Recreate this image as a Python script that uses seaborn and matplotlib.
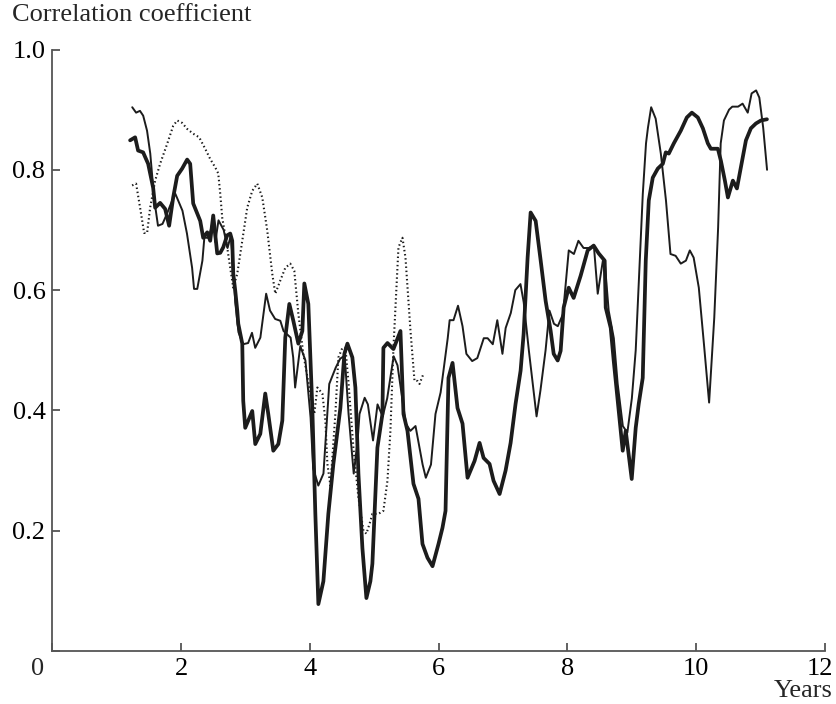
import numpy as np
import pandas as pd
import matplotlib
matplotlib.use("Agg")
import matplotlib.pyplot as plt
from matplotlib.transforms import ScaledTranslation
import seaborn as sns

# Running correlation coefficients against time (years)
thick_x = [1.207, 1.285, 1.331, 1.409, 1.487, 1.565, 1.596, 1.673, 1.751, 1.813, 1.876, 1.938, 2.015, 2.093,
           2.140, 2.187, 2.296, 2.342, 2.405, 2.451, 2.498, 2.560, 2.607, 2.653, 2.715, 2.762, 2.793, 2.809,
           2.840, 2.871, 2.887, 2.949, 2.964, 2.995, 3.104, 3.151, 3.229, 3.306, 3.353, 3.431, 3.509, 3.571,
           3.617, 3.680, 3.742, 3.820, 3.882, 3.913, 3.975, 4.037, 4.084, 4.131, 4.209, 4.286, 4.364, 4.473,
           4.535, 4.582, 4.659, 4.706, 4.753, 4.815, 4.877, 4.939, 4.970, 5.048, 5.126, 5.141, 5.204, 5.297,
           5.406, 5.453, 5.515, 5.608, 5.686, 5.748, 5.826, 5.904, 5.997, 6.059, 6.106, 6.152, 6.215, 6.292,
           6.370, 6.448, 6.495, 6.557, 6.635, 6.697, 6.790, 6.852, 6.946, 7.039, 7.117, 7.194, 7.272, 7.319,
           7.381, 7.428, 7.506, 7.584, 7.661, 7.739, 7.786, 7.848, 7.894, 7.941, 8.019, 8.096, 8.205, 8.314,
           8.407, 8.485, 8.578, 8.594, 8.672, 8.718, 8.796, 8.858, 8.905, 8.998, 9.060, 9.107, 9.169, 9.216,
           9.263, 9.325, 9.403, 9.481, 9.527, 9.574, 9.652, 9.760, 9.854, 9.932, 10.025, 10.103, 10.180,
           10.227, 10.336, 10.383, 10.445, 10.492, 10.569, 10.632, 10.694, 10.772, 10.849, 10.927, 11.005,
           11.098]
thick_y = [0.849, 0.854, 0.832, 0.829, 0.810, 0.770, 0.737, 0.745, 0.735, 0.707, 0.754, 0.790, 0.802, 0.817,
           0.810, 0.744, 0.715, 0.687, 0.696, 0.682, 0.724, 0.661, 0.662, 0.671, 0.691, 0.694, 0.682, 0.627,
           0.599, 0.566, 0.544, 0.511, 0.416, 0.371, 0.399, 0.344, 0.361, 0.428, 0.394, 0.333, 0.344, 0.383,
           0.521, 0.577, 0.549, 0.511, 0.532, 0.611, 0.577, 0.404, 0.228, 0.078, 0.116, 0.228, 0.311, 0.404,
           0.494, 0.511, 0.488, 0.438, 0.295, 0.171, 0.088, 0.116, 0.145, 0.338, 0.394, 0.504, 0.512, 0.502,
           0.532, 0.394, 0.366, 0.278, 0.253, 0.178, 0.155, 0.141, 0.178, 0.205, 0.233, 0.454, 0.479, 0.404,
           0.378, 0.288, 0.300, 0.316, 0.346, 0.321, 0.311, 0.283, 0.261, 0.300, 0.346, 0.411, 0.466, 0.527,
           0.654, 0.729, 0.715, 0.649, 0.582, 0.532, 0.494, 0.483, 0.499, 0.571, 0.604, 0.587, 0.624, 0.666,
           0.674, 0.661, 0.649, 0.571, 0.537, 0.483, 0.399, 0.333, 0.366, 0.286, 0.371, 0.411, 0.454, 0.649,
           0.749, 0.787, 0.802, 0.810, 0.829, 0.827, 0.844, 0.865, 0.887, 0.895, 0.887, 0.869, 0.844,
           0.835, 0.835, 0.815, 0.782, 0.754, 0.782, 0.769, 0.804, 0.849, 0.869, 0.877, 0.882,
           0.884]

thin_x = [1.24, 1.30, 1.36, 1.41, 1.47, 1.52, 1.57, 1.60, 1.64, 1.71, 1.78, 1.86, 1.91, 2.02, 2.09, 2.17,
          2.20, 2.25, 2.33, 2.36, 2.42, 2.46, 2.50, 2.53, 2.58, 2.66, 2.72, 2.77, 2.81, 2.84, 2.89, 2.96,
          3.04, 3.10, 3.15, 3.23, 3.32, 3.38, 3.46, 3.54, 3.59, 3.70, 3.74, 3.77, 3.85, 3.93, 4.01, 4.05,
          4.13, 4.21, 4.27, 4.30, 4.40, 4.47, 4.54, 4.60, 4.68, 4.74, 4.77, 4.85, 4.90, 4.98, 5.05, 5.13,
          5.20, 5.30, 5.36, 5.49, 5.56, 5.64, 5.75, 5.80, 5.88, 5.95, 6.03, 6.14, 6.17, 6.23, 6.30, 6.37,
          6.43, 6.52, 6.60, 6.70, 6.76, 6.84, 6.91, 6.99, 7.04, 7.12, 7.19, 7.27, 7.32, 7.40, 7.52, 7.58,
          7.66, 7.72, 7.79, 7.85, 7.93, 8.02, 8.10, 8.17, 8.25, 8.33, 8.41, 8.47, 8.55, 8.58, 8.64, 8.72,
          8.78, 8.86, 8.93, 9.00, 9.06, 9.11, 9.17, 9.22, 9.25, 9.30, 9.37, 9.45, 9.53, 9.60, 9.68, 9.76,
          9.84, 9.90, 9.96, 10.04, 10.12, 10.20, 10.28, 10.34, 10.38, 10.43, 10.51, 10.56, 10.65, 10.72,
          10.80, 10.86, 10.93, 10.98, 11.04, 11.10]
thin_y = [0.904, 0.895, 0.898, 0.890, 0.865, 0.827, 0.765, 0.737, 0.707, 0.710, 0.727, 0.749, 0.760, 0.732,
          0.694, 0.637, 0.602, 0.602, 0.649, 0.687, 0.687, 0.700, 0.720, 0.680, 0.716, 0.700, 0.670, 0.690,
          0.640, 0.580, 0.530, 0.510, 0.512, 0.529, 0.504, 0.521, 0.594, 0.566, 0.552, 0.549, 0.532, 0.521,
          0.488, 0.438, 0.507, 0.483, 0.388, 0.304, 0.275, 0.295, 0.394, 0.444, 0.471, 0.486, 0.491, 0.394,
          0.295, 0.349, 0.394, 0.421, 0.410, 0.350, 0.410, 0.390, 0.420, 0.490, 0.475, 0.378, 0.366, 0.374,
          0.310, 0.288, 0.310, 0.394, 0.430, 0.520, 0.550, 0.550, 0.574, 0.540, 0.494, 0.482, 0.487, 0.520,
          0.520, 0.510, 0.550, 0.494, 0.537, 0.562, 0.600, 0.610, 0.580, 0.500, 0.390, 0.433, 0.500, 0.566,
          0.544, 0.540, 0.560, 0.666, 0.660, 0.682, 0.670, 0.670, 0.674, 0.594, 0.649, 0.645, 0.566, 0.520,
          0.444, 0.374, 0.363, 0.420, 0.500, 0.620, 0.760, 0.844, 0.870, 0.904, 0.885, 0.827, 0.749, 0.660,
          0.657, 0.644, 0.649, 0.666, 0.654, 0.604, 0.510, 0.413, 0.554, 0.704, 0.844, 0.882, 0.900, 0.905,
          0.905, 0.910, 0.895, 0.927, 0.932, 0.920, 0.870, 0.800]

dotted_x = [1.238, 1.300, 1.362, 1.425, 1.471, 1.518, 1.596, 1.673, 1.782, 1.876, 1.938, 2.015, 2.093, 2.187,
            2.280, 2.373, 2.451, 2.529, 2.576, 2.607, 2.638, 2.700, 2.762, 2.809, 2.871, 2.949, 3.026, 3.104,
            3.182, 3.260, 3.337, 3.415, 3.462, 3.540, 3.617, 3.695, 3.757, 3.820, 3.897, 4.006, 4.068, 4.115,
            4.193, 4.240, 4.271, 4.318, 4.395, 4.442, 4.504, 4.551, 4.597, 4.675, 4.753, 4.831, 4.877, 4.939,
            4.970, 5.064, 5.141, 5.204, 5.250, 5.297, 5.375, 5.437, 5.484, 5.562, 5.624, 5.671, 5.702, 5.764]
dotted_y = [0.774, 0.777, 0.737, 0.695, 0.695, 0.737, 0.782, 0.810, 0.843, 0.873, 0.882, 0.878, 0.868, 0.860,
            0.854, 0.835, 0.818, 0.804, 0.794, 0.760, 0.720, 0.682, 0.637, 0.604, 0.627, 0.682, 0.737, 0.765,
            0.777, 0.754, 0.699, 0.627, 0.594, 0.616, 0.637, 0.644, 0.632, 0.561, 0.494, 0.428, 0.394, 0.438,
            0.428, 0.383, 0.311, 0.275, 0.394, 0.488, 0.504, 0.504, 0.449, 0.338, 0.255, 0.200, 0.195, 0.216,
            0.228, 0.228, 0.233, 0.283, 0.366, 0.504, 0.671, 0.687, 0.654, 0.532, 0.449, 0.449, 0.444, 0.461]

x_ticks = [0, 2, 4, 6, 8, 10, 12]
y_ticks = [0.0, 0.2, 0.4, 0.6, 0.8, 1.0]

sns.set_style("ticks")
plt.rcParams["font.family"] = ["Liberation Serif", "DejaVu Serif"]
FS = 19
plt.rcParams["font.size"] = FS

ink = "#1c1c1c"
axis_grey = "#555555"

fig = plt.figure(figsize=(8.36, 7.04), dpi=100)
ax = fig.add_axes([52.4 / 836, 1 - 651 / 704, (825 - 52.4) / 836, (651 - 49.5) / 704])

thick = pd.DataFrame({"year": thick_x, "r": thick_y})
thin = pd.DataFrame({"year": thin_x, "r": thin_y})
dotted = pd.DataFrame({"year": dotted_x, "r": dotted_y})

sns.lineplot(data=dotted, x="year", y="r", ax=ax, color=ink, linewidth=1.5,
             linestyle=(0, (0.7, 1.3)), estimator=None, sort=False)
sns.lineplot(data=thin, x="year", y="r", ax=ax, color=ink, linewidth=1.4,
             estimator=None, sort=False)
sns.lineplot(data=thick, x="year", y="r", ax=ax, color=ink, linewidth=2.7,
             estimator=None, sort=False)

ax.set_xlim(0, 12)
ax.set_ylim(0, 1.0)
ax.set_xticks(x_ticks)
ax.set_xticklabels(["" if t == 0 else str(t) for t in x_ticks])
ax.set_yticks(y_ticks)
ax.set_yticklabels(["" if t == 0 else f"{t:.1f}" for t in y_ticks])
ax.set_xlabel("")
ax.set_ylabel("")

for side in ("top", "right"):
    ax.spines[side].set_visible(False)
for side in ("left", "bottom"):
    ax.spines[side].set_color(axis_grey)
    ax.spines[side].set_linewidth(1.3)
ax.tick_params(direction="in", length=6, width=1.3, color=axis_grey,
               labelsize=FS, labelcolor="black", pad=5)

# keep the last x label inside the figure edge
last = ax.get_xticklabels()[-1]
last.set_transform(last.get_transform() + ScaledTranslation(-5 / 100, 0, fig.dpi_scale_trans))

# shared origin label
ax.annotate("0", xy=(0, 0), xycoords="data", xytext=(-11, -13),
            textcoords="offset points", ha="center", va="center", fontsize=FS)

fig.text(12 / 836, 1 - 15 / 704, "Correlation coefficient", ha="left", va="center", fontsize=FS)
fig.text(833 / 836, 1 - 691 / 704, "Years", ha="right", va="center", fontsize=FS)

fig.savefig("out.png", dpi=100)
